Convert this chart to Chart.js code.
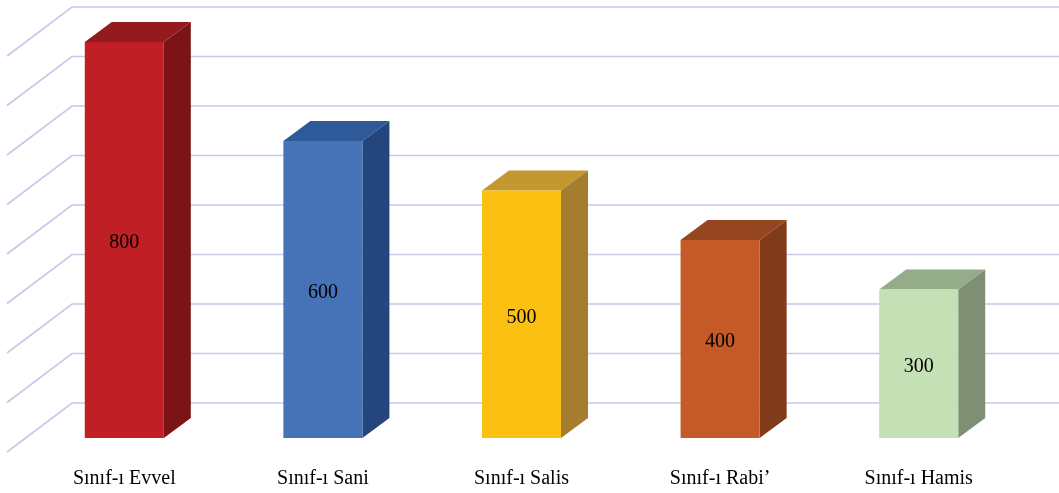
<!DOCTYPE html>
<html>
<head>
<meta charset="utf-8">
<script src="https://cdn.jsdelivr.net/npm/chart.js@4.4.0/dist/chart.umd.min.js"></script>
<style>
html,body{margin:0;padding:0;background:#fff;}
#wrap{width:1059px;height:493px;position:relative;}
</style>
</head>
<body>
<div id="wrap"><canvas id="c"></canvas></div>
<script>
const categories = ['Sınıf-ı Evvel', 'Sınıf-ı Sani', 'Sınıf-ı Salis', 'Sınıf-ı Rabi’', 'Sınıf-ı Hamis'];
const values = [800, 600, 500, 400, 300];
const gridValues = [0, 100, 200, 300, 400, 500, 600, 700, 800];

const frontColors = ['#C11F26', '#4672B7', '#FCC013', '#C55A28', '#C5E0B4'];
const topColors   = ['#931A1E', '#2F5A99', '#C4982E', '#964521', '#94AC88'];
const sideColors  = ['#7C1315', '#25467C', '#A47E2E', '#7F3B1A', '#7E8F74'];

const DEPTH_X = 27, DEPTH_Y = -20;
const WALL_X = 72, WALL_OFF = -35, SIDE_DX = -65, SIDE_DY = 49;
const SERIF = '"Liberation Serif", "Times New Roman", serif';

const wallPlugin = {
  id: 'wall',
  beforeDatasetsDraw(chart) {
    const ctx = chart.ctx, y = chart.scales.y;
    ctx.save();
    ctx.strokeStyle = '#C4CAE8';
    ctx.lineWidth = 1.7;
    gridValues.forEach(v => {
      const py = y.getPixelForValue(v) + WALL_OFF;
      ctx.beginPath();
      ctx.moveTo(WALL_X + SIDE_DX, py + SIDE_DY);
      ctx.lineTo(WALL_X, py);
      ctx.lineTo(chart.width, py);
      ctx.stroke();
    });
    const meta = chart.getDatasetMeta(0);
    meta.data.forEach((bar, i) => {
      const p = bar.getProps(['x', 'y', 'base', 'width'], true);
      const l = p.x - p.width / 2, r = p.x + p.width / 2, t = p.y, b = p.base;
      ctx.fillStyle = topColors[i];
      ctx.beginPath();
      ctx.moveTo(l, t); ctx.lineTo(l + DEPTH_X, t + DEPTH_Y);
      ctx.lineTo(r + DEPTH_X, t + DEPTH_Y); ctx.lineTo(r, t); ctx.closePath();
      ctx.fill();
      ctx.fillStyle = sideColors[i];
      ctx.beginPath();
      ctx.moveTo(r, t); ctx.lineTo(r + DEPTH_X, t + DEPTH_Y);
      ctx.lineTo(r + DEPTH_X, b + DEPTH_Y); ctx.lineTo(r, b); ctx.closePath();
      ctx.fill();
    });
    ctx.restore();
  },
  afterDatasetsDraw(chart) {
    const ctx = chart.ctx;
    const meta = chart.getDatasetMeta(0);
    ctx.save();
    ctx.fillStyle = '#000';
    ctx.font = '20px ' + SERIF;
    ctx.textAlign = 'center';
    ctx.textBaseline = 'middle';
    meta.data.forEach((bar, i) => {
      const p = bar.getProps(['x', 'y', 'base'], true);
      ctx.fillText(String(values[i]), p.x, (p.y + p.base) / 2 + 3);
    });
    ctx.restore();
  }
};

new Chart(document.getElementById('c'), {
  type: 'bar',
  data: {
    labels: categories,
    datasets: [{
      data: values,
      backgroundColor: frontColors,
      borderWidth: 0,
      categoryPercentage: 1,
      barPercentage: 0.398
    }]
  },
  options: {
    responsive: true,
    maintainAspectRatio: false,
    animation: false,
    layout: { padding: { top: 42, left: 25, right: 41, bottom: 0 } },
    plugins: { legend: { display: false }, tooltip: { enabled: false } },
    scales: {
      x: {
        grid: { display: false, drawTicks: false },
        border: { display: false },
        ticks: { color: '#000', font: { family: SERIF, size: 20 }, padding: 29, maxRotation: 0 },
        afterFit(scale) { scale.height = 55; }
      },
      y: { display: false, min: 0, max: 800 }
    }
  },
  plugins: [wallPlugin]
});
</script>
</body>
</html>
